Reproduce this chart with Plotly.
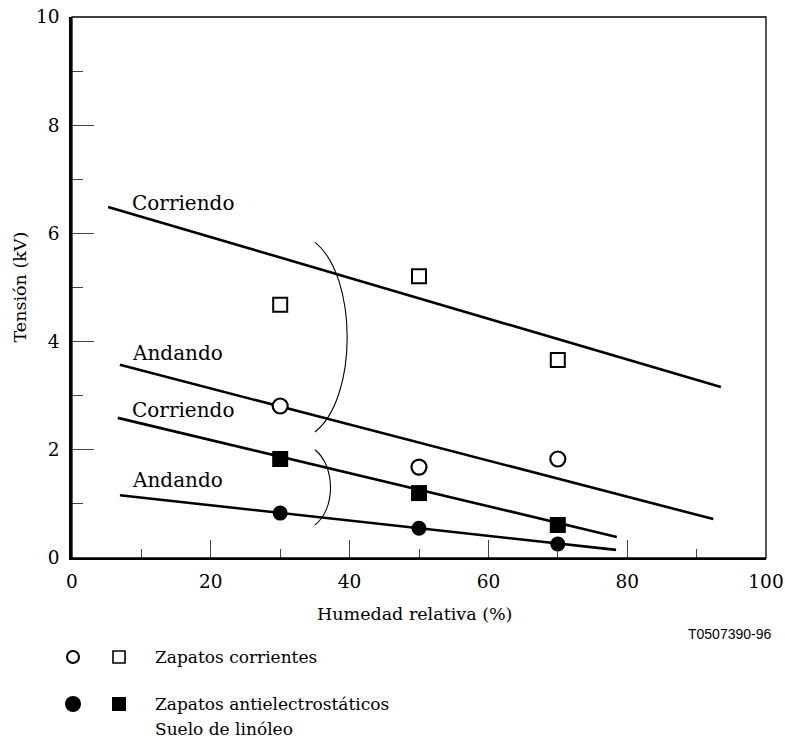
import plotly.graph_objects as go

# ---- data ----
humidity = [30, 50, 70]
v_normal_run = [4.68, 5.21, 3.66]      # open squares
v_normal_walk = [2.81, 1.68, 1.83]     # open circles
v_anti_run = [1.83, 1.20, 0.61]        # filled squares
v_anti_walk = [0.83, 0.55, 0.26]       # filled circles

line_labels = ["Corriendo", "Andando", "Corriendo", "Andando"]
line_x0 = [5.2, 6.9, 6.6, 6.9]
line_y0 = [6.49, 3.57, 2.59, 1.16]
line_x1 = [93.5, 92.4, 78.5, 78.4]
line_y1 = [3.16, 0.72, 0.39, 0.15]
label_x = [8.3, 8.3, 8.3, 8.3]
label_y = [6.56, 3.79, 2.74, 1.44]

x_ticks = [0, 20, 40, 60, 80, 100]
y_ticks = [0, 2, 4, 6, 8, 10]

SERIF = "DejaVu Serif"
W, H = 785, 743
L, R, T, B = 72, 19, 17, 185
PW, PH = W - L - R, H - T - B

def px(x):
    return (x - L) / PW

def py(y):
    return (T + PH - y) / PH

fig = go.Figure()

for i in range(4):
    fig.add_trace(go.Scatter(x=[line_x0[i], line_x1[i]], y=[line_y0[i], line_y1[i]],
                             mode="lines", line=dict(color="black", width=2.6),
                             showlegend=False, hoverinfo="skip"))

fig.add_trace(go.Scatter(x=humidity, y=v_normal_run, mode="markers",
                         marker=dict(symbol="square-open", size=14, color="black", line=dict(width=2)),
                         showlegend=False))
fig.add_trace(go.Scatter(x=humidity, y=v_normal_walk, mode="markers",
                         marker=dict(symbol="circle", size=15, color="white", line=dict(width=2.2, color="black")),
                         showlegend=False))
fig.add_trace(go.Scatter(x=humidity, y=v_anti_run, mode="markers",
                         marker=dict(symbol="square", size=16, color="black"),
                         showlegend=False))
fig.add_trace(go.Scatter(x=humidity, y=v_anti_walk, mode="markers",
                         marker=dict(symbol="circle", size=15, color="black"),
                         showlegend=False))

shapes = []
shapes.append(dict(type="path", xref="x", yref="y",
                   path="M 35,5.84 C 41.2,5.2 41.2,2.95 35,2.33",
                   line=dict(color="black", width=1.1)))
shapes.append(dict(type="path", xref="x", yref="y",
                   path="M 35,2.0 C 38.0,1.7 38.0,0.9 35,0.61",
                   line=dict(color="black", width=1.1)))
shapes.append(dict(type="rect", xref="paper", yref="paper", x0=0, y0=0, x1=1, y1=1,
                   line=dict(color="black", width=1.3), layer="above"))

def circ(cx, cy, r, filled):
    return dict(type="circle", xref="paper", yref="paper",
                x0=px(cx - r), x1=px(cx + r), y0=py(cy + r), y1=py(cy - r),
                line=dict(color="black", width=0 if filled else 2),
                fillcolor="black" if filled else "white")

def sq(cx, cy, r, filled):
    return dict(type="rect", xref="paper", yref="paper",
                x0=px(cx - r), x1=px(cx + r), y0=py(cy + r), y1=py(cy - r),
                line=dict(color="black", width=0 if filled else 1.6),
                fillcolor="black" if filled else "white")

shapes += [circ(73, 657, 6, False), sq(119, 657, 6, False),
           circ(73, 704, 8, True), sq(119, 704, 7, True)]

annotations = []
for i in range(4):
    annotations.append(dict(x=label_x[i], y=label_y[i], xref="x", yref="y", text=line_labels[i],
                            showarrow=False, xanchor="left", yanchor="middle",
                            font=dict(family=SERIF, size=20, color="black")))

annotations += [
    dict(x=px(414), y=py(614), xref="paper", yref="paper", text="Humedad relativa (%)",
         showarrow=False, xanchor="center", yanchor="middle",
         font=dict(family=SERIF, size=17.5, color="black")),
    dict(x=px(19), y=0.5, xref="paper", yref="paper", text="Tensión (kV)", textangle=-90,
         showarrow=False, xanchor="center", yanchor="middle",
         font=dict(family=SERIF, size=17.5, color="black")),
    dict(x=px(774), y=py(634), xref="paper", yref="paper", text="T0507390-96",
         showarrow=False, xanchor="right", yanchor="middle",
         font=dict(family="Arial", size=14, color="black")),
    dict(x=px(153), y=py(657), xref="paper", yref="paper", text="Zapatos corrientes",
         showarrow=False, xanchor="left", yanchor="middle",
         font=dict(family=SERIF, size=17, color="black")),
    dict(x=px(153), y=py(704), xref="paper", yref="paper", text="Zapatos antielectrostáticos",
         showarrow=False, xanchor="left", yanchor="middle",
         font=dict(family=SERIF, size=17, color="black")),
    dict(x=px(153), y=py(729), xref="paper", yref="paper", text="Suelo de linóleo",
         showarrow=False, xanchor="left", yanchor="middle",
         font=dict(family=SERIF, size=17, color="black")),
]

fig.update_layout(
    width=W, height=H, margin=dict(l=L, r=R, t=T, b=B, autoexpand=False),
    paper_bgcolor="white", plot_bgcolor="white",
    shapes=shapes, annotations=annotations, showlegend=False,
    font=dict(family=SERIF, size=18, color="black"),
)
fig.update_xaxes(range=[0, 100], tickvals=x_ticks, ticktext=[str(v) for v in x_ticks],
                 ticks="inside", ticklen=18, tickwidth=1.3, tickcolor="#444",
                 minor=dict(tickvals=[10, 30, 50, 70, 90], ticks="inside", ticklen=9,
                            tickwidth=1.3, tickcolor="#444", showgrid=False),
                 showline=True, linecolor="black", linewidth=2, mirror=False,
                 showgrid=False, zeroline=False, automargin=False, ticklabeloverflow="allow",
                 tickfont=dict(family=SERIF, size=18.5), ticklabelstandoff=6)
fig.update_yaxes(range=[0, 10], tickvals=y_ticks, ticktext=[str(v) for v in y_ticks],
                 ticks="inside", ticklen=22, tickwidth=1.3, tickcolor="#444",
                 minor=dict(tickvals=[1, 3, 5, 7, 9], ticks="inside", ticklen=11,
                            tickwidth=1.3, tickcolor="#444", showgrid=False),
                 showline=True, linecolor="black", linewidth=2.5, mirror=False,
                 showgrid=False, zeroline=False, automargin=False, ticklabeloverflow="allow",
                 tickfont=dict(family=SERIF, size=18.5), ticklabelstandoff=6)

fig.write_html("out.html", config={"displayModeBar": False},
               post_script="document.body.style.margin='0';document.body.style.overflow='hidden';")
